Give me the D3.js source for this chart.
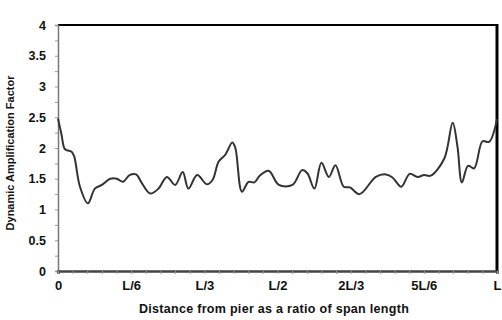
<!DOCTYPE html>
<html>
  <head>
    <meta charset="utf-8">
    <title></title>
    <script src="https://d3js.org/d3.v7.min.js"></script>
    <style>
    body{margin:0; background:white;}
    svg{display:block; background-color:white;}
    text{font-family:"Liberation Sans", Arial, sans-serif; font-weight:bold; fill:#111;}
    </style>
  </head>
  <body>
    <script>
    // distance from pier as ratio of span length, and dynamic amplification factor
    var ratio = [0.000, 0.008, 0.016, 0.031, 0.037, 0.050, 0.068, 0.084, 0.100, 0.119, 0.134, 0.148, 0.163, 0.178,
                 0.191, 0.210, 0.229, 0.248, 0.267, 0.284, 0.297, 0.317, 0.339, 0.352, 0.366, 0.381, 0.397, 0.404,
                 0.419, 0.434, 0.447, 0.461, 0.480, 0.503, 0.534, 0.556, 0.568, 0.584, 0.600, 0.617, 0.632, 0.651,
                 0.665, 0.687, 0.724, 0.747, 0.762, 0.782, 0.801, 0.819, 0.834, 0.849, 0.880, 0.899, 0.910, 0.920,
                 0.934, 0.948, 0.967, 0.982, 1.000];
    var daf   = [2.48, 2.22, 1.98, 1.94, 1.86, 1.37, 1.10, 1.34, 1.40, 1.50, 1.50, 1.45, 1.56, 1.57,
                 1.43, 1.26, 1.34, 1.53, 1.40, 1.61, 1.34, 1.56, 1.41, 1.48, 1.78, 1.89, 2.09, 2.00,
                 1.29, 1.45, 1.44, 1.56, 1.63, 1.40, 1.40, 1.64, 1.59, 1.34, 1.76, 1.53, 1.72, 1.37,
                 1.36, 1.25, 1.53, 1.57, 1.52, 1.37, 1.58, 1.53, 1.56, 1.55, 1.83, 2.41, 2.02, 1.44,
                 1.71, 1.67, 2.11, 2.10, 2.47];

    var xTickVals = [0, 1/6, 1/3, 1/2, 2/3, 5/6, 1];
    var xTickLabels = ["0", "L/6", "L/3", "L/2", "2L/3", "5L/6", "L"];
    var yTickVals = [0, 0.5, 1, 1.5, 2, 2.5, 3, 3.5, 4];

    var width = 502, height = 320;
    var margin = {left:58, right:5, top:25, bottom:49};

    var svg = d3.select("body").append("svg").attr("width", width).attr("height", height);

    var x = d3.scaleLinear().domain([0, 1]).range([margin.left, width - margin.right]);
    var y = d3.scaleLinear().domain([0, 4]).range([height - margin.bottom, margin.top]);

    // frame: top and right black, left and bottom are the axes
    svg.append("line").attr("x1", x(0)).attr("x2", x(1)+1).attr("y1", y(4)).attr("y2", y(4))
      .attr("stroke", "#000").attr("stroke-width", 2);
    svg.append("line").attr("x1", x(1)).attr("x2", x(1)).attr("y1", y(4)-1).attr("y2", y(0))
      .attr("stroke", "#000").attr("stroke-width", 3);

    // y axis
    var yAxis = d3.axisLeft(y).tickValues(d3.range(0, 4.01, 0.25)).tickSize(3)
      .tickFormat(function(d){ return yTickVals.indexOf(d) >= 0 ? d3.format("")(d) : ""; });
    var gy = svg.append("g").attr("transform", "translate(" + x(0) + ",0)").call(yAxis);
    gy.select(".domain").attr("stroke", "#777").attr("stroke-width", 1.5);
    gy.selectAll(".tick line").attr("stroke", "#999");
    gy.selectAll(".tick text").attr("x", -12).style("font-size", "12.5px").attr("fill", "#111");

    // x axis
    var xAxis = d3.axisBottom(x).tickValues(d3.range(0, 31).map(function(i){ return i/30; })).tickSize(3)
      .tickFormat(function(d, i){ return i % 5 === 0 ? xTickLabels[i/5] : ""; });
    var gx = svg.append("g").attr("transform", "translate(0," + y(0) + ")").call(xAxis);
    gx.select(".domain").attr("stroke", "#444").attr("stroke-width", 2.5);
    gx.selectAll(".tick line").attr("stroke", "#999");
    gx.selectAll(".tick text").attr("y", 10).style("font-size", "13px").attr("fill", "#111");

    // data line
    var pts = ratio.map(function(r, i){ return [r, daf[i]]; });
    var line = d3.line().x(function(d){ return x(d[0]); }).y(function(d){ return y(d[1]); })
      .curve(d3.curveCatmullRom.alpha(0.5));
    svg.append("path").datum(pts).attr("d", line)
      .attr("fill", "none").attr("stroke", "#333").attr("stroke-width", 2);

    // titles
    svg.append("text").attr("x", 274).attr("y", 313).attr("text-anchor", "middle")
      .style("font-size", "12.5px").style("letter-spacing", "0.3px")
      .text("Distance from pier as a ratio of span length");
    svg.append("text").attr("transform", "translate(14,153) rotate(-90)").attr("text-anchor", "middle")
      .style("font-size", "11px").text("Dynamic Amplification Factor");
    </script>
  </body>
</html>
